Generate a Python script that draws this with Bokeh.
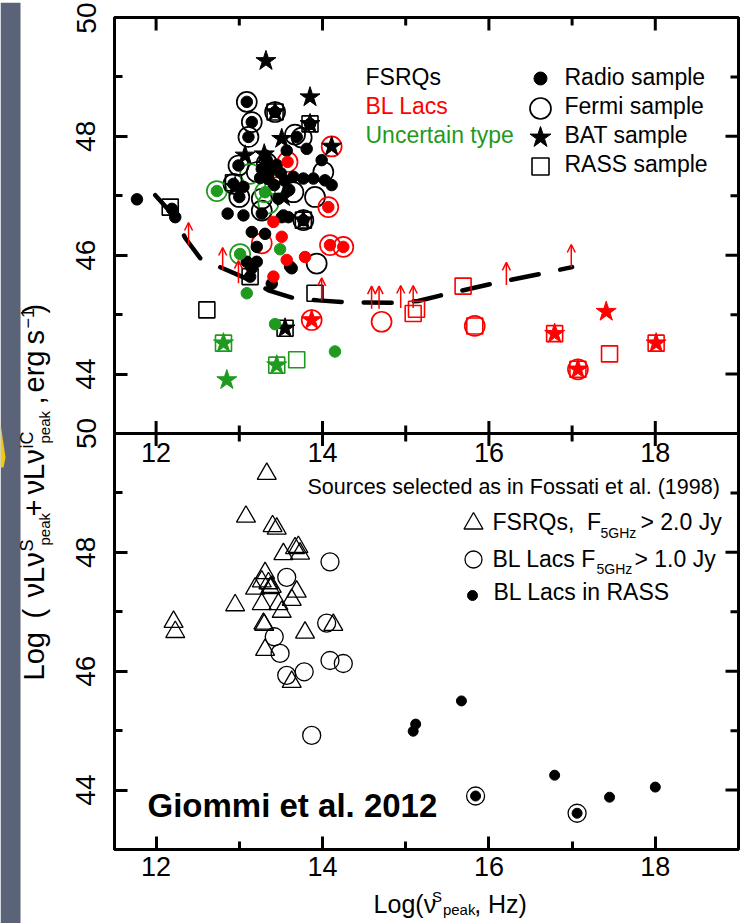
import numpy as np
from bokeh.plotting import figure
from bokeh.layouts import column, row
from bokeh.models import (Range1d, LinearAxis, FixedTicker, Span, Arrow, OpenHead,
                          ColumnDataSource)
from bokeh.core.properties import value
from bokeh.embed import file_html
from bokeh.resources import INLINE

# ---------------- upper panel: all samples ----------------
# FSRQs (black)
fsrq_radio_x = [11.77, 12.19, 12.23, 12.86, 13.05, 12.93, 13.00, 13.09, 13.15, 13.11,
                12.99, 13.43, 13.69, 13.31, 13.33, 13.81, 13.57, 13.99, 13.65, 13.77,
                13.89, 14.03, 14.11, 13.27, 13.53, 13.59, 13.77, 13.15, 13.31, 13.21,
                13.51, 13.63, 13.09, 13.21, 13.15, 13.13, 13.39, 13.27, 13.37, 13.45,
                13.35, 13.50, 13.42, 13.55, 13.25, 13.60, 13.47, 13.05, 13.85, 13.61]
fsrq_radio_y = [46.94, 46.78, 46.64, 46.70, 46.67, 47.20, 46.98, 48.58, 48.24, 47.99,
                47.51, 48.41, 47.99, 47.68, 47.60, 47.79, 47.76, 47.60, 47.32, 47.29,
                47.29, 47.26, 47.18, 46.70, 46.67, 46.64, 46.59, 46.39, 46.36, 46.14,
                46.64, 45.78, 45.89, 45.89, 45.78, 45.64, 45.52, 47.45, 47.42, 47.52,
                47.28, 47.38, 47.18, 47.25, 47.30, 47.10, 46.95, 47.15, 48.21, 45.81]
fsrq_fermi_x = [13.09, 13.15, 13.11, 13.67, 13.75, 12.99, 13.00, 12.93, 13.27, 13.65,
                13.91, 14.01, 13.27, 13.93, 13.43, 13.77, 13.33, 13.21]
fsrq_fermi_y = [48.58, 48.24, 47.99, 48.03, 47.98, 47.51, 46.98, 47.20, 46.95, 47.06,
                46.98, 47.40, 46.75, 45.86, 48.41, 46.59, 47.55, 47.40]
fsrq_bat_x = [13.32, 13.85, 13.51, 14.11, 13.07, 13.43, 13.85, 13.77, 13.55, 13.53, 12.95, 13.30]
fsrq_bat_y = [49.27, 48.66, 47.96, 47.83, 47.68, 48.41, 48.21, 46.59, 44.77, 46.98, 47.15, 47.70]
fsrq_rass_x = [12.17, 12.93, 13.43, 13.85, 13.77, 13.13, 12.61, 13.91, 13.55]
fsrq_rass_y = [46.81, 47.22, 48.41, 48.21, 46.59, 45.64, 45.08, 45.36, 44.77]

# BL Lacs (red)
bll_radio_x = [13.58, 14.07, 13.41, 13.51, 13.57, 13.79, 14.09, 14.25, 13.41]
bll_radio_y = [47.57, 46.81, 46.56, 46.31, 45.92, 45.97, 46.17, 46.14, 45.64]
bll_fermi_x = [13.58, 14.11, 14.07, 13.47, 13.27, 14.09, 14.25, 13.87, 14.71, 15.83, 17.07]
bll_fermi_y = [47.57, 47.83, 46.81, 47.15, 46.20, 46.17, 46.14, 44.91, 44.88, 44.81, 44.08]
bll_bat_x = [13.87, 16.79, 17.41, 17.07, 18.01]
bll_bat_y = [44.91, 44.68, 45.05, 44.08, 44.52]
bll_rass_x = [15.09, 15.13, 15.69, 15.83, 16.79, 17.07, 17.45, 18.01]
bll_rass_y = [45.02, 45.09, 45.48, 44.81, 44.68, 44.08, 44.34, 44.52]

# uncertain type (green)
unc_radio_x = [12.73, 13.31, 13.01, 13.49, 13.09, 13.43, 14.15]
unc_radio_y = [47.08, 47.06, 46.02, 46.10, 45.36, 44.84, 44.38]
unc_fermi_x = [12.73, 13.13, 13.31, 13.43, 13.35, 13.01]
unc_fermi_y = [47.08, 47.37, 47.06, 47.18, 46.87, 46.02]
unc_bat_x = [12.81, 13.45, 12.85]
unc_bat_y = [44.52, 44.15, 43.90]
unc_rass_x = [12.81, 13.45, 13.69]
unc_rass_y = [44.52, 44.15, 44.24]

# lower limits (red arrows) and the selection-limit curve
lim_x = [12.39, 12.80, 12.99, 13.99, 14.59, 14.68, 14.94, 15.09, 16.21, 16.99]
lim_y = [46.17, 45.75, 45.53, 45.24, 45.10, 45.10, 45.11, 45.11, 45.50, 45.80]
curve_x = [11.99, 12.23, 12.35, 12.53, 12.80, 13.13, 13.35, 13.65, 13.95, 14.27,
           14.87, 15.15, 15.47, 16.07, 16.67, 17.00]
curve_y = [47.01, 46.64, 46.29, 45.95, 45.78, 45.58, 45.41, 45.28, 45.24, 45.21,
           45.20, 45.23, 45.34, 45.53, 45.70, 45.80]

# ---------------- lower panel: Fossati et al. (1998) selection ----------------
fos_fsrq_x = [13.33, 13.08, 13.40, 13.45, 13.53, 13.67, 13.71, 13.73, 13.31, 13.27,
              13.19, 13.35, 13.39, 13.69, 13.63, 12.95, 13.27, 13.47, 13.51, 13.29,
              13.79, 12.21, 12.23, 13.31, 13.63, 14.13, 13.37, 13.30]
fos_fsrq_y = [49.32, 48.60, 48.44, 48.40, 47.97, 48.07, 48.09, 47.98, 47.65, 47.51,
              47.39, 47.48, 47.42, 47.34, 47.20, 47.11, 47.13, 47.13, 47.00, 46.80,
              46.65, 46.83, 46.66, 46.36, 45.82, 46.78, 47.40, 46.78]
fos_bll_x = [14.09, 13.57, 14.05, 13.42, 13.49, 13.57, 13.78, 14.09, 14.25, 13.87, 15.84, 17.06]
fos_bll_y = [47.84, 47.58, 46.81, 46.58, 46.30, 45.93, 45.99, 46.18, 46.13, 44.92, 43.90, 43.61]
rass_bll_x = [15.12, 15.09, 15.67, 15.84, 16.79, 17.06, 17.45, 18.00]
rass_bll_y = [45.11, 44.99, 45.50, 43.90, 44.25, 43.61, 43.88, 44.05]

# axis ticks
x_major = [12, 14, 16, 18]
x_minor = [13, 15, 17]
y_major = [44, 46, 48, 50]
y_minor = [45, 47, 49]
x_labels = ["12", "14", "16", "18"]

# ---------------- styling / layout ----------------
FONT = "Liberation Sans"
BLACK, RED, GREEN = "#000000", "#ff0000", "#1f9a1f"
DARK = "#5a6378"

W, H = 745, 923
BAND_H = 2                 # dark band along the top of the page
LEFT_W = 56                # dark strip + rotated y title
TITLE_H = 35               # x title under the main plot
ML, MR, MT, MB = 58, 7, 15, 39
main_w = W - LEFT_W
main_h = H - BAND_H - TITLE_H
frame_w, frame_h = main_w - ML - MR, main_h - MT - MB
FL, FB = LEFT_W + ML, BAND_H + MT + frame_h   # frame left / bottom on the page

X0, X1 = 11.5, 19.0
Y0, Y1 = 43.0, 50.0
SHIFT = Y1 - Y0          # upper panel sits one panel-height above the lower one
MID = 0.35               # baseline -> middle of the text line, in em


def bare(fig, bg="white"):
    fig.grid.visible = False
    fig.outline_line_color = None
    fig.background_fill_color = bg
    fig.border_fill_color = bg
    return fig


p = figure(width=main_w, height=main_h, output_backend="svg", toolbar_location=None,
           x_range=Range1d(X0, X1), y_range=Range1d(Y0, Y1 + SHIFT),
           x_axis_location=None, y_axis_location=None,
           min_border_left=ML, min_border_right=MR, min_border_top=MT, min_border_bottom=MB)
p.extra_y_ranges = {"top": Range1d(Y0 - SHIFT, Y1)}
bare(p)
p.outline_line_color = BLACK
p.outline_line_width = 3

TICK_IN, MINOR_IN = 13, 8


def axis_style(ax, size, standoff):
    ax.axis_line_width = 3
    ax.major_tick_in, ax.major_tick_out = TICK_IN, 0
    ax.minor_tick_in, ax.minor_tick_out = MINOR_IN, 0
    ax.major_tick_line_width = 3
    ax.minor_tick_line_width = 3
    ax.major_label_text_font = FONT
    ax.major_label_text_color = BLACK
    ax.major_label_text_font_size = size
    ax.major_label_standoff = standoff
    return ax


y_ticks = y_major + [t + SHIFT for t in y_major]
y_minors = y_minor + [t + SHIFT for t in y_minor]
y_over = {t + SHIFT: str(t) for t in y_major}
y_over.update({t: str(t) for t in y_major})

left = LinearAxis(ticker=FixedTicker(ticks=y_ticks, minor_ticks=y_minors),
                  major_label_overrides=y_over, major_label_orientation="vertical")
p.add_layout(axis_style(left, "28px", 19), "left")
bottom = LinearAxis(ticker=FixedTicker(ticks=x_major, minor_ticks=x_minor),
                    major_label_overrides={t: s for t, s in zip(x_major, x_labels)})
p.add_layout(axis_style(bottom, "27px", 7), "below")

# inward ticks on the right and top edges (half of each dash is clipped by the frame)
tick_kw = dict(marker="dash", line_color=BLACK, line_width=3)
p.scatter(x=[X1] * len(y_ticks), y=y_ticks, size=2 * TICK_IN, **tick_kw)
p.scatter(x=[X1] * len(y_minors), y=y_minors, size=2 * MINOR_IN, **tick_kw)
p.scatter(x=x_major, y=[Y1 + SHIFT] * len(x_major), angle=np.pi / 2, size=2 * TICK_IN, **tick_kw)
p.scatter(x=x_minor, y=[Y1 + SHIFT] * len(x_minor), angle=np.pi / 2, size=2 * MINOR_IN, **tick_kw)

# divider between the two panels, with its ticks and labels
p.add_layout(Span(location=Y1, dimension="width", line_color=BLACK, line_width=3))
p.scatter(x=x_major, y=[Y1] * len(x_major), angle=np.pi / 2, size=25, **tick_kw)
p.scatter(x=x_minor, y=[Y1] * len(x_minor), angle=np.pi / 2, size=16, **tick_kw)
p.text(x=x_major, y=[Y1] * len(x_major), text=x_labels, y_offset=9,
       text_align="center", text_baseline="top", text_font=value(FONT),
       text_font_size="27px", text_color=BLACK)

# ---------------- upper panel glyphs ----------------
p.line(curve_x, curve_y, y_range_name="top", line_color=BLACK, line_width=4.5,
       line_dash="28 22", line_cap="round")

arrows = ColumnDataSource(dict(x=lim_x, y0=lim_y, y1=list(np.array(lim_y) + 0.38)))
p.add_layout(Arrow(x_start="x", y_start="y0", x_end="x", y_end="y1", source=arrows,
                   y_range_name="top", line_color=RED, line_width=1.5,
                   end=OpenHead(size=8, line_color=RED, line_width=1.5)))


def sample(xs, ys, color, kind):
    if kind == "fermi":
        p.scatter(xs, ys, marker="circle", size=20, fill_color=None, line_color=color,
                  line_width=1.7, y_range_name="top")
    elif kind == "rass":
        p.scatter(xs, ys, marker="square", size=16, fill_color=None, line_color=color,
                  line_width=1.6, y_range_name="top")
    elif kind == "bat":
        p.scatter(xs, ys, marker="star", size=21, fill_color=color, line_color=color,
                  line_width=1, y_range_name="top")
    else:
        p.scatter(xs, ys, marker="circle", size=11.5, fill_color=color, line_color=color,
                  line_width=1, y_range_name="top")


groups = {
    BLACK: {"fermi": (fsrq_fermi_x, fsrq_fermi_y), "rass": (fsrq_rass_x, fsrq_rass_y),
            "bat": (fsrq_bat_x, fsrq_bat_y), "radio": (fsrq_radio_x, fsrq_radio_y)},
    RED: {"fermi": (bll_fermi_x, bll_fermi_y), "rass": (bll_rass_x, bll_rass_y),
          "bat": (bll_bat_x, bll_bat_y), "radio": (bll_radio_x, bll_radio_y)},
    GREEN: {"fermi": (unc_fermi_x, unc_fermi_y), "rass": (unc_rass_x, unc_rass_y),
            "bat": (unc_bat_x, unc_bat_y), "radio": (unc_radio_x, unc_radio_y)},
}
for kind in ["fermi", "rass", "bat", "radio"]:
    for color, g in groups.items():
        sample(*g[kind], color, kind)

# ---------------- lower panel glyphs ----------------
p.scatter(fos_fsrq_x, fos_fsrq_y, marker="triangle", size=19, fill_color=None,
          line_color=BLACK, line_width=1.3)
p.scatter(fos_bll_x, fos_bll_y, marker="circle", size=18, fill_color=None,
          line_color=BLACK, line_width=1.3)
p.scatter(rass_bll_x, rass_bll_y, marker="circle", size=10, fill_color=BLACK,
          line_color=BLACK)


# ---------------- texts and legend keys (page pixel positions) ----------------
def to_data(X, Y):
    return (X0 + (X - FL) / frame_w * (X1 - X0),
            Y0 + (FB - Y) / frame_h * (Y1 + SHIFT - Y0))


def text(fig, txt, X, Y, size, color=BLACK, angle=0.0, bold=False, conv=None):
    """Text whose baseline starts at page pixel (X, Y)."""
    if angle:
        X -= MID * size
    else:
        Y -= MID * size
    x, y = conv(X, Y) if conv else (X, Y)
    fig.text(x=[x], y=[y], text=[txt], angle=angle, text_font=value(FONT),
             text_font_size=f"{size}px", text_color=color, text_align="left",
             text_baseline="middle", text_font_style="bold" if bold else "normal")


def key(X, Y, **kw):
    x, y = to_data(X, Y)
    p.scatter([x], [y], **kw)


LEG = 23
for txt, col, Y in [("FSRQs", BLACK, 85), ("BL Lacs", RED, 114), ("Uncertain type", GREEN, 143)]:
    text(p, txt, 365, Y, LEG, color=col, conv=to_data)
key(540, 78, marker="circle", size=13, fill_color=BLACK, line_color=BLACK)
key(540, 108, marker="circle", size=21, fill_color=None, line_color=BLACK, line_width=1.7)
key(540, 137, marker="star", size=22, fill_color=BLACK, line_color=BLACK)
key(540, 166, marker="square", size=17, fill_color=None, line_color=BLACK, line_width=1.6)
for txt, Y in [("Radio sample", 85), ("Fermi sample", 114), ("BAT sample", 143), ("RASS sample", 172)]:
    text(p, txt, 564, Y, LEG, conv=to_data)

text(p, "Sources selected as in Fossati et al. (1998)", 307, 494, 21.5, conv=to_data)
key(473, 523, marker="triangle", size=19, fill_color=None, line_color=BLACK, line_width=1.3)
key(473, 559, marker="circle", size=17, fill_color=None, line_color=BLACK, line_width=1.3)
key(472, 595, marker="circle", size=10, fill_color=BLACK, line_color=BLACK)
text(p, "FSRQs,\u00a0 F", 492, 530, LEG, conv=to_data)
text(p, "5GHz", 600, 537, 14, conv=to_data)
text(p, "> 2.0 Jy", 640, 530, LEG, conv=to_data)
text(p, "BL Lacs F", 492, 567, LEG, conv=to_data)
text(p, "5GHz", 596, 573, 14, conv=to_data)
text(p, "> 1.0 Jy", 634, 567, LEG, conv=to_data)
text(p, "BL Lacs in RASS", 493, 600, LEG, conv=to_data)

text(p, "Giommi et al. 2012", 147, 817, 33, bold=True, conv=to_data)

# ---------------- x title strip: Log(nu^S_peak, Hz) ----------------
xt = bare(figure(width=main_w, height=TITLE_H, output_backend="svg", toolbar_location=None,
                 x_range=Range1d(LEFT_W, W), y_range=Range1d(H, H - TITLE_H),
                 x_axis_location=None, y_axis_location=None, min_border=0))
AW = {" ": 278, "(": 333, ")": 333, ",": 278, "L": 556, "o": 556, "g": 556, "ν": 500,
      "S": 667, "p": 556, "e": 556, "a": 556, "k": 500, "H": 722, "z": 500}


def width(s, size):
    return sum(AW.get(c, 556) for c in s) * size / 1000


XT_MAIN, XT_SMALL, XT_BASE, GAP = 25, 15, 912, 2
parts = [("Log(ν", XT_MAIN, 0), ("S", XT_SMALL, -11), ("peak", XT_SMALL, 2), (", Hz)", XT_MAIN, 0)]
total = sum(width(s, sz) + GAP for s, sz, _ in parts) - GAP
Xc = 424 - total / 2
for s, sz, dy in parts:
    text(xt, s, Xc, XT_BASE + dy, sz)
    Xc += width(s, sz) + GAP

# ---------------- left strip: dark margin and rotated y title ----------------
lf = bare(figure(width=LEFT_W, height=H - BAND_H, output_backend="svg", toolbar_location=None,
                 x_range=Range1d(0, LEFT_W), y_range=Range1d(H, BAND_H),
                 x_axis_location=None, y_axis_location=None, min_border=0))
lf.quad(left=[0], right=[20], top=[BAND_H], bottom=[H], color=DARK, line_color=None)
lf.patch([0, 5, 3, 0], [423, 457, 467, 467], color="#f4c812", line_color=None)

ROT = np.pi / 2
for txt, Y, kind in [("Log", 680, "n"), ("(", 618, "n"), ("νLν", 597, "n"), ("S", 551, "u"),
                     ("peak", 545, "d"), ("+", 516, "n"), ("νLν", 494, "n"), ("iC", 448, "u"),
                     ("peak", 443, "d"), (",", 404, "n"), ("erg", 392, "n"), ("s", 344, "n"),
                     ("−1", 328, "u"), (")", 313, "n")]:
    Xb = {"n": 44, "u": 33, "d": 49}[kind]
    size = {"n": 29, "u": 18, "d": 15}[kind]
    text(lf, txt, Xb, Y, size, angle=ROT)

band = bare(figure(width=W, height=BAND_H, output_backend="svg", toolbar_location=None,
                   x_axis_location=None, y_axis_location=None, min_border=0), bg=DARK)

layout = column(band, row(lf, column(p, xt, spacing=0), spacing=0), spacing=0)

with open("out.html", "w") as f:
    f.write(file_html(layout, INLINE))
